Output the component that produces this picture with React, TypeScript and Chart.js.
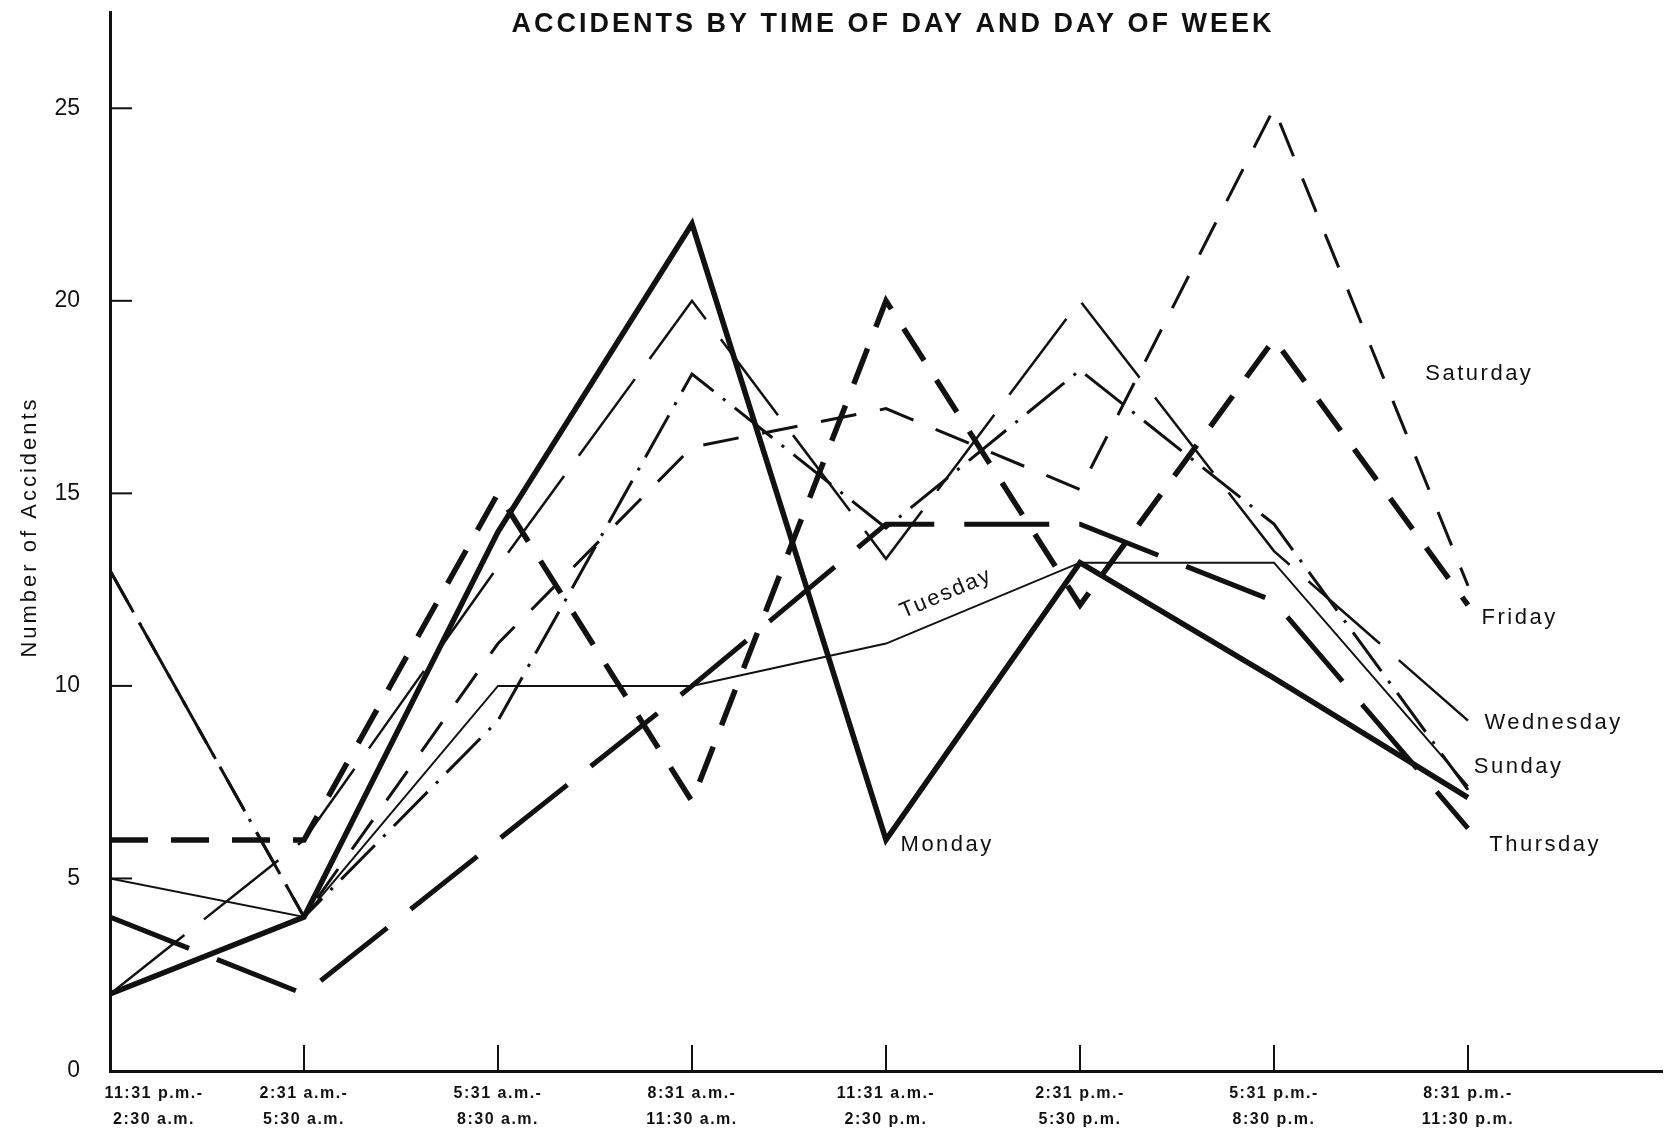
import React, { useEffect, useRef } from "react";
import { Chart, registerables } from "chart.js";

Chart.register(...registerables);

// ---- data ----
const timeSlots: string[][] = [
  ["11:31 p.m.-", "2:30 a.m."],
  ["2:31 a.m.-", "5:30 a.m."],
  ["5:31 a.m.-", "8:30 a.m."],
  ["8:31 a.m.-", "11:30 a.m."],
  ["11:31 a.m.-", "2:30 p.m."],
  ["2:31 p.m.-", "5:30 p.m."],
  ["5:31 p.m.-", "8:30 p.m."],
  ["8:31 p.m.-", "11:30 p.m."],
];
const yTicks = [0, 5, 10, 15, 20, 25];

const sunday = [13, 4, 9.1, 18.1, 14.1, 18.2, 14.2, 7.3];
const monday = [2, 4, 14, 22, 6, 13.2, 10.2, 7.1];
const tuesday = [5, 4, 10, 10, 11.1, 13.2, 13.2, 7.4];
const wednesday = [2, 6, 13.1, 20, 13.3, 20, 13.5, 9.1];
const thursday = [4, 2, 6, 10, 14.2, 14.2, 12.2, 6.3];
const friday = [6, 6, 15, 7, 20, 12.1, 19, 12.1];
const saturday = [13, 4, 11.1, 16.2, 17.2, 15.1, 25, 12.6];

const TITLE = "ACCIDENTS BY TIME OF DAY AND DAY OF WEEK";
const Y_TITLE = "Number of Accidents";

// ---- styling ----
const INK = "#111111";
const FONT = '"Liberation Sans", Arial, Helvetica, sans-serif';

const seriesStyles = [
  { name: "Sunday", data: sunday, width: 3, dash: [48, 12, 3, 12] },
  { name: "Monday", data: monday, width: 5.5, dash: [] as number[] },
  { name: "Tuesday", data: tuesday, width: 2, dash: [] as number[] },
  { name: "Wednesday", data: wednesday, width: 2.5, dash: [95, 25] },
  { name: "Thursday", data: thursday, width: 5, dash: [85, 30] },
  { name: "Friday", data: friday, width: 5.5, dash: [38, 23] },
  { name: "Saturday", data: saturday, width: 3, dash: [36, 24] },
];

// label anchors, in data units (x index, y value)
const labelSpots = [
  { name: "Saturday", x: 6.78, y: 18.1 },
  { name: "Friday", x: 7.07, y: 11.77 },
  { name: "Wednesday", x: 7.085, y: 9.05 },
  { name: "Sunday", x: 7.03, y: 7.9 },
  { name: "Thursday", x: 7.11, y: 5.87 },
  { name: "Monday", x: 4.075, y: 5.87 },
];
const tuesdaySpot = { name: "Tuesday", x: 4.31, y: 12.4, angle: -23 };

const decorPlugin = {
  id: "decor",
  afterDraw(chart: any) {
    const { ctx, chartArea, scales } = chart;
    const xs = scales.x;
    const ys = scales.y;
    ctx.save();
    ctx.strokeStyle = INK;
    ctx.fillStyle = INK;
    ctx.lineWidth = 2;
    ctx.setLineDash([]);
    // inward tick marks
    yTicks.forEach((v) => {
      if (v === 0) return;
      const py = ys.getPixelForValue(v);
      ctx.beginPath();
      ctx.moveTo(chartArea.left, py);
      ctx.lineTo(chartArea.left + 22, py);
      ctx.stroke();
    });
    timeSlots.forEach((_, i) => {
      if (i === 0) return;
      const px = xs.getPixelForValue(i);
      ctx.beginPath();
      ctx.moveTo(px, chartArea.bottom);
      ctx.lineTo(px, chartArea.bottom - 26);
      ctx.stroke();
    });

    // x tick labels
    ctx.font = `bold 16px ${FONT}`;
    (ctx as any).letterSpacing = "1.5px";
    ctx.textAlign = "center";
    ctx.textBaseline = "middle";
    timeSlots.forEach((lines, i) => {
      let cx = xs.getPixelForValue(i);
      if (i === 0) cx += 44;
      lines.forEach((t, k) => {
        ctx.fillText(t, cx, chartArea.bottom + 23 + k * 26);
      });
    });

    // title
    ctx.font = `bold 27px ${FONT}`;
    (ctx as any).letterSpacing = "3px";
    ctx.textAlign = "center";
    ctx.fillText(TITLE, 893, 25);

    // y axis title
    ctx.save();
    ctx.translate(30, 527);
    ctx.rotate(-Math.PI / 2);
    ctx.font = `22px ${FONT}`;
    (ctx as any).letterSpacing = "3px";
    ctx.textAlign = "center";
    ctx.fillText(Y_TITLE, 0, 0);
    ctx.restore();

    // day labels
    ctx.font = `22px ${FONT}`;
    (ctx as any).letterSpacing = "2.5px";
    ctx.textAlign = "left";
    ctx.textBaseline = "middle";
    labelSpots.forEach((s) => {
      ctx.fillText(s.name, xs.getPixelForValue(s.x), ys.getPixelForValue(s.y));
    });
    ctx.save();
    ctx.translate(xs.getPixelForValue(tuesdaySpot.x), ys.getPixelForValue(tuesdaySpot.y));
    ctx.rotate((tuesdaySpot.angle * Math.PI) / 180);
    (ctx as any).letterSpacing = "2px";
    ctx.textAlign = "center";
    ctx.fillText(tuesdaySpot.name, 0, 0);
    ctx.restore();

    ctx.restore();
  },
};

export default function App() {
  const canvasRef = useRef<HTMLCanvasElement | null>(null);

  useEffect(() => {
    const canvas = canvasRef.current;
    if (!canvas) return;
    const chart = new Chart(canvas, {
      type: "line",
      data: {
        datasets: seriesStyles.map((s) => ({
          label: s.name,
          data: s.data.map((v, i) => ({ x: i, y: v })),
          borderColor: INK,
          borderWidth: s.width,
          borderDash: s.dash,
          borderJoinStyle: "miter" as const,
          borderCapStyle: "butt" as const,
          pointRadius: 0,
          pointHoverRadius: 0,
          tension: 0,
          fill: false,
        })),
      },
      options: {
        responsive: false,
        animation: false,
        devicePixelRatio: 1,
        layout: { padding: { left: 0, right: 9, top: 12, bottom: 0 } },
        plugins: {
          legend: { display: false },
          title: { display: false },
          tooltip: { enabled: false },
        },
        scales: {
          x: {
            type: "linear",
            min: 0,
            max: 8,
            ticks: { display: false, stepSize: 1 },
            grid: { display: false, drawTicks: false },
            border: { display: true, color: INK, width: 3 },
            afterFit: (s: any) => {
              s.height = 68;
              s.paddingLeft = 0;
              s.paddingRight = 0;
              s.paddingTop = 0;
              s.paddingBottom = 0;
            },
          },
          y: {
            type: "linear",
            min: 0,
            max: 27.5,
            afterBuildTicks: (s: any) => {
              s.ticks = yTicks.map((v) => ({ value: v }));
            },
            ticks: {
              color: INK,
              padding: 30,
              font: { family: FONT, size: 23, lineHeight: 1 },
            },
            grid: { display: false, drawTicks: false },
            border: { display: true, color: INK, width: 3 },
            afterFit: (s: any) => {
              s.width = 110;
              s.paddingTop = 0;
              s.paddingBottom = 0;
              s.paddingLeft = 0;
              s.paddingRight = 0;
            },
          },
        },
      },
      plugins: [decorPlugin],
    });
    return () => chart.destroy();
  }, []);

  return (
    <div style={{ position: "fixed", left: 0, top: 0, width: 1671, height: 1139, background: "#fff" }}>
      <canvas
        ref={canvasRef}
        width={1671}
        height={1139}
        style={{ display: "block", width: 1671, height: 1139 }}
      />
    </div>
  );
}
